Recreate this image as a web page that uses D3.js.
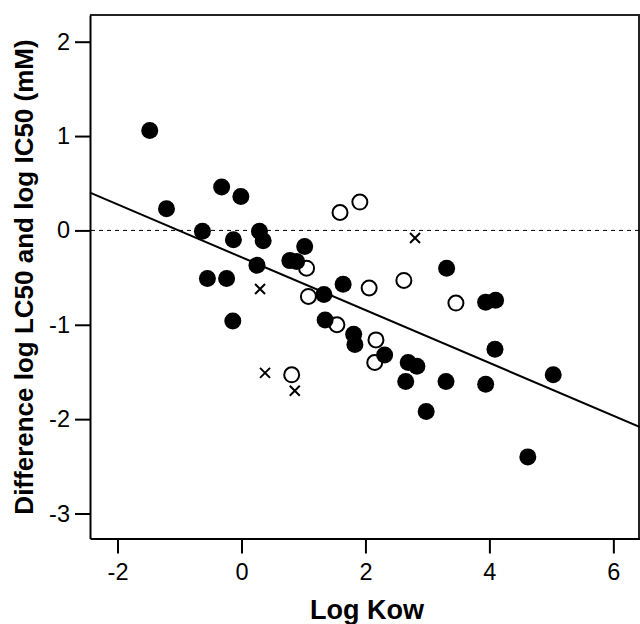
<!DOCTYPE html>
<html>
<head>
<meta charset="utf-8">
<script src="https://cdn.jsdelivr.net/npm/d3@7"></script>
<style>
	body { margin: 0; background: #fff; }
	svg { display: block; font-family: "Liberation Sans", Arial, sans-serif; }
</style>
</head>
<body>
<div id="chart"></div>
<script>
// filled circles [logKow, difference]
var filled = [
	[-1.48, 1.06], [-1.21, 0.23], [-0.32, 0.46], [-0.01, 0.36], [-0.63, -0.01],
	[-0.13, -0.10], [0.29, -0.01], [0.35, -0.11], [0.25, -0.37], [-0.55, -0.51],
	[-0.24, -0.51], [-0.14, -0.96], [1.02, -0.17], [0.78, -0.32], [0.89, -0.33],
	[1.33, -0.68], [1.64, -0.57], [1.35, -0.95], [1.81, -1.10], [1.83, -1.21],
	[2.31, -1.32], [2.69, -1.40], [2.83, -1.44], [2.65, -1.60], [3.30, -1.60],
	[2.98, -1.92], [3.31, -0.40], [3.94, -0.76], [4.10, -0.74], [4.09, -1.26],
	[3.94, -1.63], [5.03, -1.53], [4.62, -2.40]
];
// open circles
var open = [
	[1.59, 0.19], [1.91, 0.30], [1.05, -0.40], [1.08, -0.70], [1.54, -1.00],
	[2.06, -0.61], [2.62, -0.53], [3.46, -0.77], [2.17, -1.16], [2.15, -1.40],
	[0.81, -1.53]
];
// crosses
var crosses = [[0.30, -0.62], [0.38, -1.51], [0.86, -1.70], [2.80, -0.08]];

// fit line y = a + b*x
var fitIntercept = -0.284, fitSlope = -0.280;

var xTicks = [-2, 0, 2, 4, 6];
var yTicks = [2, 1, 0, -1, -2, -3];

var W = 640, H = 624;
var mLeft = 90, mTop = 15, mRight = 640, mBottom = 538.5;

var x = d3.scaleLinear().domain([-2.444, 6.43]).range([mLeft, mRight]);
var y = d3.scaleLinear().domain([-3.265, 2.283]).range([mBottom, mTop]);

var svg = d3.select("#chart").append("svg")
	.attr("width", W)
	.attr("height", H);

// frame top / right
svg.append("path")
	.attr("d", "M" + mLeft + "," + mTop + "H" + (mRight - 1) + "V" + mBottom)
	.attr("fill", "none")
	.attr("stroke", "#222")
	.attr("stroke-width", 2);

var fmt = function(d) { return String(d); };

var xAxis = svg.append("g")
	.attr("transform", "translate(0," + mBottom + ")")
	.call(d3.axisBottom(x).tickValues(xTicks).tickFormat(fmt)
		.tickSize(15).tickPadding(10).tickSizeOuter(0));

var yAxis = svg.append("g")
	.attr("transform", "translate(" + mLeft + ",0)")
	.call(d3.axisLeft(y).tickValues(yTicks).tickFormat(fmt)
		.tickSize(15).tickPadding(5).tickSizeOuter(0));

[xAxis, yAxis].forEach(function(g) {
	g.select(".domain").attr("stroke", "#000").attr("stroke-width", 2);
	g.selectAll(".tick line").attr("stroke", "#000").attr("stroke-width", 2);
	g.selectAll(".tick text")
		.attr("fill", "#000")
		.style("font-size", "23.5px")
		.style("font-family", "'Liberation Sans', Arial, sans-serif");
});

// reference line at zero
svg.append("line")
	.attr("x1", mLeft + 1).attr("x2", mRight)
	.attr("y1", y(0)).attr("y2", y(0))
	.attr("stroke", "#000")
	.attr("stroke-width", 1)
	.attr("stroke-dasharray", "4,4");

// fit line
svg.append("line")
	.attr("x1", x(x.domain()[0])).attr("x2", x(x.domain()[1]))
	.attr("y1", y(fitIntercept + fitSlope * x.domain()[0]))
	.attr("y2", y(fitIntercept + fitSlope * x.domain()[1]))
	.attr("stroke", "#000")
	.attr("stroke-width", 2);

svg.append("g").selectAll("circle")
	.data(open)
	.enter().append("circle")
	.attr("cx", function(d) { return x(d[0]); })
	.attr("cy", function(d) { return y(d[1]); })
	.attr("r", 7.5)
	.attr("fill", "#fff")
	.attr("stroke", "#000")
	.attr("stroke-width", 2);

svg.append("g").selectAll("circle")
	.data(filled)
	.enter().append("circle")
	.attr("cx", function(d) { return x(d[0]); })
	.attr("cy", function(d) { return y(d[1]); })
	.attr("r", 8.5)
	.attr("fill", "#000");

svg.append("g").selectAll("path")
	.data(crosses)
	.enter().append("path")
	.attr("d", function(d) {
		var cx = x(d[0]), cy = y(d[1]), s = 5;
		return "M" + (cx - s) + "," + (cy - s) + "L" + (cx + s) + "," + (cy + s) +
			"M" + (cx - s) + "," + (cy + s) + "L" + (cx + s) + "," + (cy - s);
	})
	.attr("stroke", "#000")
	.attr("stroke-width", 2);

// axis titles
svg.append("text")
	.attr("x", 367)
	.attr("y", 619)
	.attr("text-anchor", "middle")
	.style("font-size", "27px")
	.style("font-weight", "bold")
	.text("Log Kow");

svg.append("text")
	.attr("transform", "translate(33," + 277 + ")rotate(-90)")
	.attr("text-anchor", "middle")
	.style("font-size", "26px")
	.style("font-weight", "bold")
	.text("Difference log LC50 and log IC50 (mM)");
</script>
</body>
</html>
